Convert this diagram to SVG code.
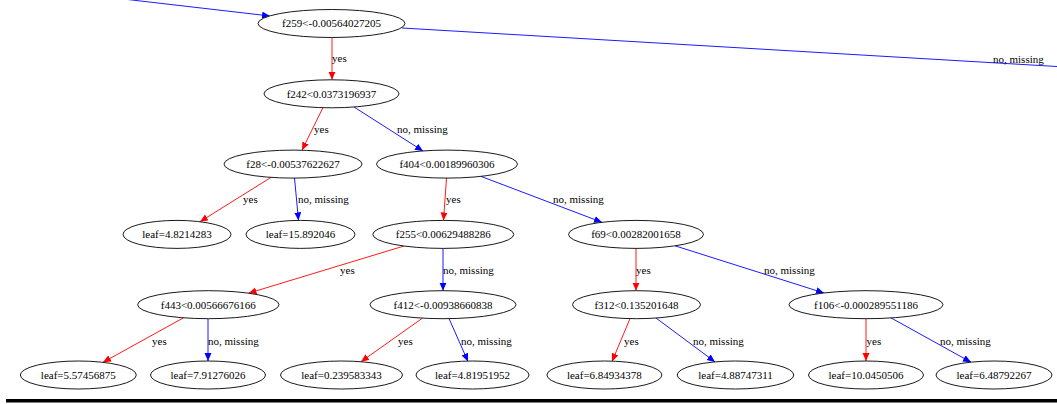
<svg xmlns="http://www.w3.org/2000/svg" width="1057" height="404" viewBox="0 0 1057 404">
<style>
  .n ellipse { fill: #ffffff; stroke: #000000; stroke-width: 0.9; }
  .n text { font-family: "Liberation Serif", "Times New Roman", serif; font-size: 11px; fill: #000000; text-anchor: middle; }
  .e line { stroke-width: 0.9; fill: none; }
  .e .yes { stroke: #ff0000; }
  .e .no { stroke: #0000ff; }
  .lbl { font-family: "Liberation Serif", "Times New Roman", serif; font-size: 11px; fill: #000000; }
</style>
<defs>
  <marker id="ar" markerUnits="userSpaceOnUse" markerWidth="10" markerHeight="8" refX="8" refY="3.5" orient="auto">
    <path d="M0,0 L8,3.5 L0,7 z" fill="#ff0000"/>
  </marker>
  <marker id="ab" markerUnits="userSpaceOnUse" markerWidth="10" markerHeight="8" refX="8" refY="3.5" orient="auto">
    <path d="M0,0 L8,3.5 L0,7 z" fill="#0000ff"/>
  </marker>
</defs>
<rect x="0" y="0" width="1057" height="404" fill="#ffffff"/>
<g id="connectors" class="e">
  <line class="no" x1="100" y1="-3.7" x2="270" y2="16" marker-end="url(#ab)"/>
  <line class="no" x1="402" y1="28" x2="1057" y2="66.5"/>
  <line class="yes" x1="332" y1="37.5" x2="332" y2="79.8" marker-end="url(#ar)"/>
  <line class="yes" x1="323" y1="107.5" x2="302" y2="150.2" marker-end="url(#ar)"/>
  <line class="no" x1="354" y1="107" x2="423" y2="151" marker-end="url(#ab)"/>
  <line class="yes" x1="271" y1="177.4" x2="200" y2="221.7" marker-end="url(#ar)"/>
  <line class="no" x1="294.5" y1="178" x2="298.5" y2="220.4" marker-end="url(#ab)"/>
  <line class="yes" x1="446.5" y1="178" x2="443.5" y2="220.4" marker-end="url(#ar)"/>
  <line class="no" x1="481" y1="176.4" x2="602" y2="222.3" marker-end="url(#ab)"/>
  <line class="yes" x1="404" y1="246" x2="248.5" y2="293.2" marker-end="url(#ar)"/>
  <line class="no" x1="443" y1="248.4" x2="443" y2="290.7" marker-end="url(#ab)"/>
  <line class="yes" x1="636" y1="248.4" x2="636" y2="290.7" marker-end="url(#ar)"/>
  <line class="no" x1="675" y1="245.8" x2="824" y2="293" marker-end="url(#ab)"/>
  <line class="yes" x1="183.5" y1="317.8" x2="103" y2="362.3" marker-end="url(#ar)"/>
  <line class="no" x1="208" y1="318.7" x2="208" y2="361" marker-end="url(#ab)"/>
  <line class="yes" x1="422.5" y1="318.1" x2="361" y2="361.7" marker-end="url(#ar)"/>
  <line class="no" x1="449" y1="318.5" x2="468" y2="361.5" marker-end="url(#ab)"/>
  <line class="yes" x1="630" y1="318.7" x2="612" y2="361.5" marker-end="url(#ar)"/>
  <line class="no" x1="656" y1="318" x2="715" y2="361.9" marker-end="url(#ab)"/>
  <line class="yes" x1="866" y1="318.7" x2="866" y2="361" marker-end="url(#ar)"/>
  <line class="no" x1="891" y1="317.9" x2="971" y2="362.2" marker-end="url(#ab)"/>
  <text class="lbl" x="993" y="62.8">no, missing</text>
  <text class="lbl" x="332" y="62.4">yes</text>
  <text class="lbl" x="314" y="132.8">yes</text>
  <text class="lbl" x="397" y="132.8">no, missing</text>
  <text class="lbl" x="243" y="203.3">yes</text>
  <text class="lbl" x="298" y="203.3">no, missing</text>
  <text class="lbl" x="446" y="203.3">yes</text>
  <text class="lbl" x="553" y="203.3">no, missing</text>
  <text class="lbl" x="340" y="273.6">yes</text>
  <text class="lbl" x="443" y="273.6">no, missing</text>
  <text class="lbl" x="636" y="273.6">yes</text>
  <text class="lbl" x="764" y="273.6">no, missing</text>
  <text class="lbl" x="152" y="344.6">yes</text>
  <text class="lbl" x="208" y="344.6">no, missing</text>
  <text class="lbl" x="398" y="344.6">yes</text>
  <text class="lbl" x="461" y="344.6">no, missing</text>
  <text class="lbl" x="624" y="344.6">yes</text>
  <text class="lbl" x="693" y="344.6">no, missing</text>
  <text class="lbl" x="866.5" y="344.6">yes</text>
  <text class="lbl" x="940" y="344.6">no, missing</text>
</g>
<g id="n_f259" class="n"><ellipse cx="331.5" cy="23.5" rx="73.5" ry="14"/><text x="331.5" y="27.3">f259&lt;-0.00564027205</text></g>
<g id="n_f242" class="n"><ellipse cx="331.5" cy="93.8" rx="67.5" ry="14"/><text x="331.5" y="97.6">f242&lt;0.0373196937</text></g>
<g id="n_f28" class="n"><ellipse cx="293" cy="164.1" rx="69" ry="14"/><text x="293" y="167.9">f28&lt;-0.00537622627</text></g>
<g id="n_f404" class="n"><ellipse cx="447" cy="164.1" rx="70.5" ry="14"/><text x="447" y="167.9">f404&lt;0.00189960306</text></g>
<g id="n_leaf1" class="n"><ellipse cx="177" cy="234.4" rx="54" ry="14"/><text x="177" y="238.2">leaf=4.8214283</text></g>
<g id="n_leaf2" class="n"><ellipse cx="300.5" cy="234.4" rx="54.5" ry="14"/><text x="300.5" y="238.2">leaf=15.892046</text></g>
<g id="n_f255" class="n"><ellipse cx="443.3" cy="234.4" rx="70.5" ry="14"/><text x="443.3" y="238.2">f255&lt;0.00629488286</text></g>
<g id="n_f69" class="n"><ellipse cx="636" cy="234.4" rx="67.5" ry="14"/><text x="636" y="238.2">f69&lt;0.00282001658</text></g>
<g id="n_f443" class="n"><ellipse cx="208.3" cy="304.7" rx="70.7" ry="14"/><text x="208.3" y="308.5">f443&lt;0.00566676166</text></g>
<g id="n_f412" class="n"><ellipse cx="443" cy="304.7" rx="73" ry="14"/><text x="443" y="308.5">f412&lt;-0.00938660838</text></g>
<g id="n_f312" class="n"><ellipse cx="636.5" cy="304.7" rx="64" ry="14"/><text x="636.5" y="308.5">f312&lt;0.135201648</text></g>
<g id="n_f106" class="n"><ellipse cx="866" cy="304.7" rx="77" ry="14"/><text x="866" y="308.5">f106&lt;-0.000289551186</text></g>
<g id="n_leaf3" class="n"><ellipse cx="78.3" cy="375" rx="58" ry="14"/><text x="78.3" y="378.8">leaf=5.57456875</text></g>
<g id="n_leaf4" class="n"><ellipse cx="208" cy="375" rx="57.5" ry="14"/><text x="208" y="378.8">leaf=7.91276026</text></g>
<g id="n_leaf5" class="n"><ellipse cx="341.5" cy="375" rx="61" ry="14"/><text x="341.5" y="378.8">leaf=0.239583343</text></g>
<g id="n_leaf6" class="n"><ellipse cx="472.5" cy="375" rx="56.5" ry="14"/><text x="472.5" y="378.8">leaf=4.81951952</text></g>
<g id="n_leaf7" class="n"><ellipse cx="604.4" cy="375" rx="57.5" ry="14"/><text x="604.4" y="378.8">leaf=6.84934378</text></g>
<g id="n_leaf8" class="n"><ellipse cx="735.5" cy="375" rx="58.3" ry="14"/><text x="735.5" y="378.8">leaf=4.88747311</text></g>
<g id="n_leaf9" class="n"><ellipse cx="866" cy="375" rx="57.5" ry="14"/><text x="866" y="378.8">leaf=10.0450506</text></g>
<g id="n_leaf10" class="n"><ellipse cx="994" cy="375" rx="58" ry="14"/><text x="994" y="378.8">leaf=6.48792267</text></g>
<rect x="6" y="399" width="1051" height="3.5" fill="#000000"/>
</svg>
